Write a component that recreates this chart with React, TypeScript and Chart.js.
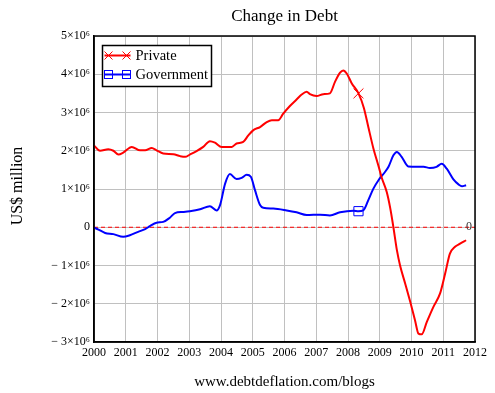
import React, { useEffect, useRef } from "react";
import Chart from "chart.js/auto";

const FONT = "'Liberation Serif', 'Times New Roman', serif";

const titleText = "Change in Debt";
const yAxisTitle = "US$ million";
const footerText = "www.debtdeflation.com/blogs";
const seriesNames = ["Private", "Government"];

const xTicks = [2000, 2001, 2002, 2003, 2004, 2005, 2006, 2007, 2008, 2009, 2010, 2011, 2012];
const yTicks = [-3, -2, -1, 0, 1, 2, 3, 4, 5];

// values in units of 10^6 US$ million
const privateX = [2000.0, 2000.19, 2000.45, 2000.61, 2000.77, 2000.92, 2001.19, 2001.45, 2001.61, 2001.82, 2001.97, 2002.18, 2002.5, 2002.71, 2002.87, 2003.02, 2003.23, 2003.44, 2003.65, 2003.81, 2004.02, 2004.34, 2004.49, 2004.7, 2004.86, 2005.02, 2005.23, 2005.44, 2005.6, 2005.8, 2005.96, 2006.17, 2006.38, 2006.54, 2006.7, 2006.8, 2007.01, 2007.22, 2007.43, 2007.59, 2007.75, 2007.85, 2007.96, 2008.12, 2008.33, 2008.5, 2008.64, 2008.8, 2008.96, 2009.06, 2009.22, 2009.33, 2009.43, 2009.54, 2009.64, 2009.8, 2009.96, 2010.11, 2010.22, 2010.32, 2010.48, 2010.69, 2010.9, 2011.06, 2011.21, 2011.37, 2011.53, 2011.72];
const privateY = [2.14, 2.0, 2.04, 2.0, 1.9, 1.95, 2.1, 2.01, 2.01, 2.07, 2.01, 1.93, 1.91, 1.86, 1.84, 1.9, 1.99, 2.1, 2.25, 2.21, 2.1, 2.1, 2.19, 2.23, 2.4, 2.54, 2.62, 2.75, 2.8, 2.8, 2.97, 3.17, 3.34, 3.47, 3.54, 3.48, 3.43, 3.48, 3.5, 3.8, 4.04, 4.1, 4.02, 3.76, 3.5, 3.12, 2.62, 2.06, 1.6, 1.3, 0.92, 0.5, 0.0, -0.6, -1.0, -1.47, -1.95, -2.43, -2.78, -2.8, -2.48, -2.08, -1.73, -1.21, -0.69, -0.51, -0.43, -0.34];

const govX = [2000.0, 2000.14, 2000.35, 2000.61, 2000.92, 2001.13, 2001.39, 2001.61, 2001.76, 2001.97, 2002.18, 2002.39, 2002.55, 2002.81, 2003.02, 2003.34, 2003.65, 2003.86, 2003.97, 2004.13, 2004.28, 2004.49, 2004.65, 2004.81, 2004.94, 2005.07, 2005.23, 2005.33, 2005.65, 2006.07, 2006.38, 2006.7, 2007.12, 2007.43, 2007.75, 2008.17, 2008.33, 2008.48, 2008.64, 2008.8, 2008.96, 2009.17, 2009.28, 2009.43, 2009.54, 2009.69, 2009.9, 2010.17, 2010.38, 2010.58, 2010.79, 2010.95, 2011.11, 2011.32, 2011.48, 2011.59, 2011.72];
const govY = [-0.01, -0.06, -0.15, -0.18, -0.25, -0.21, -0.12, -0.05, 0.03, 0.12, 0.14, 0.25, 0.37, 0.4, 0.42, 0.47, 0.55, 0.44, 0.58, 1.14, 1.39, 1.26, 1.29, 1.37, 1.32, 0.97, 0.58, 0.51, 0.49, 0.44, 0.39, 0.32, 0.33, 0.31, 0.39, 0.43, 0.42, 0.44, 0.71, 1.01, 1.23, 1.45, 1.59, 1.88, 1.97, 1.84, 1.59, 1.58, 1.58, 1.55, 1.58, 1.66, 1.53, 1.25, 1.12, 1.07, 1.1];

const markerYear = 2008.33;

function fmtY(v: number): string {
  if (v === 0) return "0";
  return (v < 0 ? "\u2212 " : "") + Math.abs(v) + "\u00d710\u2076";
}

function drawCross(ctx: CanvasRenderingContext2D, x: number, y: number, h: number) {
  ctx.beginPath();
  ctx.moveTo(x - h, y - h);
  ctx.lineTo(x + h, y + h);
  ctx.moveTo(x - h, y + h);
  ctx.lineTo(x + h, y - h);
  ctx.stroke();
}

const decorPlugin = {
  id: "decor",
  beforeDatasetsDraw(chart: any) {
    const { ctx, chartArea, scales } = chart;
    const y0 = scales.y.getPixelForValue(0);
    ctx.save();
    ctx.strokeStyle = "#ff0000";
    ctx.lineWidth = 1;
    ctx.setLineDash([4, 3]);
    ctx.beginPath();
    ctx.moveTo(chartArea.left, y0);
    ctx.lineTo(chartArea.right, y0);
    ctx.stroke();
    ctx.restore();
  },
  afterDraw(chart: any) {
    const { ctx, chartArea, scales } = chart;
    ctx.save();
    // frame
    ctx.strokeStyle = "#000";
    ctx.lineWidth = 1.5;
    ctx.strokeRect(chartArea.left, chartArea.top, chartArea.right - chartArea.left, chartArea.bottom - chartArea.top);

    // zero label
    const y0 = scales.y.getPixelForValue(0);
    ctx.fillStyle = "#333";
    ctx.font = `12px ${FONT}`;
    ctx.textAlign = "center";
    ctx.textBaseline = "middle";
    ctx.fillText("0", chartArea.right - 6, y0);

    // title
    const cx = (chartArea.left + chartArea.right) / 2;
    ctx.fillStyle = "#000";
    ctx.font = `17px ${FONT}`;
    ctx.fillText(titleText, cx, 17);
    // footer
    ctx.font = `15px ${FONT}`;
    ctx.fillText(footerText, cx, 382);
    // y title
    ctx.save();
    ctx.translate(18, (chartArea.top + chartArea.bottom) / 2 - 3);
    ctx.rotate(-Math.PI / 2);
    ctx.font = `16px ${FONT}`;
    ctx.fillText(yAxisTitle, 0, 0);
    ctx.restore();

    // legend
    const lx = chartArea.left + 8.5, ly = chartArea.top + 9.5, lw = 109, lh = 41;
    ctx.fillStyle = "#fff";
    ctx.fillRect(lx, ly, lw, lh);
    ctx.strokeStyle = "#000";
    ctx.lineWidth = 1.5;
    ctx.strokeRect(lx, ly, lw, lh);
    const rows = [
      { name: seriesNames[0], color: "#ff0000", y: ly + 10 },
      { name: seriesNames[1], color: "#0000ff", y: ly + 29 },
    ];
    rows.forEach((r, i) => {
      ctx.strokeStyle = r.color;
      ctx.lineWidth = 2;
      ctx.beginPath();
      ctx.moveTo(lx + 2, r.y);
      ctx.lineTo(lx + 28, r.y);
      ctx.stroke();
      ctx.lineWidth = 1;
      [lx + 6, lx + 24].forEach((mx) => {
        if (i === 0) drawCross(ctx, mx, r.y, 4);
        else ctx.strokeRect(mx - 4, r.y - 4, 8, 8);
      });
      ctx.fillStyle = "#000";
      ctx.font = `14.5px ${FONT}`;
      ctx.textAlign = "left";
      ctx.textBaseline = "middle";
      ctx.fillText(r.name, lx + 33, r.y + 1);
    });
    ctx.restore();
  },
};

export default function App() {
  const ref = useRef<HTMLCanvasElement>(null);
  useEffect(() => {
    if (!ref.current) return;
    const privIdx = privateX.indexOf(markerYear);
    const govIdx = govX.indexOf(markerYear);
    const chart = new Chart(ref.current, {
      type: "line",
      data: {
        datasets: [
          {
            label: seriesNames[0],
            data: privateX.map((x, i) => ({ x, y: privateY[i] })),
            borderColor: "#ff0000",
            borderWidth: 2,
            cubicInterpolationMode: "monotone",
            pointStyle: "crossRot",
            pointRadius: (c: any) => (c.dataIndex === privIdx ? 7 : 0),
            pointBorderColor: "#ff0000",
            pointBorderWidth: 1,
            pointBackgroundColor: "rgba(0,0,0,0)",
            pointHoverRadius: 0,
          },
          {
            label: seriesNames[1],
            data: govX.map((x, i) => ({ x, y: govY[i] })),
            borderColor: "#0000ff",
            borderWidth: 2,
            cubicInterpolationMode: "monotone",
            pointStyle: "rect",
            pointRadius: (c: any) => (c.dataIndex === govIdx ? 6.5 : 0),
            pointBorderColor: "#0000ff",
            pointBorderWidth: 1,
            pointBackgroundColor: "rgba(0,0,0,0)",
            pointHoverRadius: 0,
          },
        ],
      },
      options: {
        responsive: false,
        animation: false,
        events: [],
        layout: { padding: { top: 36, right: 20, left: 0, bottom: 0 } },
        plugins: { legend: { display: false }, tooltip: { enabled: false }, title: { display: false } },
        scales: {
          x: {
            type: "linear",
            min: xTicks[0],
            max: xTicks[xTicks.length - 1],
            afterBuildTicks: (s: any) => {
              s.ticks = xTicks.map((v) => ({ value: v }));
            },
            afterFit: (s: any) => {
              s.height = 51;
            },
            ticks: {
              color: "#000",
              font: { family: FONT, size: 12 },
              padding: 4,
              maxRotation: 0,
              autoSkip: false,
              callback: (v: any) => String(v),
            },
            grid: { color: "#c0c0c0", lineWidth: 1, drawTicks: false },
            border: { color: "#000", width: 1.5 },
          },
          y: {
            type: "linear",
            min: yTicks[0],
            max: yTicks[yTicks.length - 1],
            afterBuildTicks: (s: any) => {
              s.ticks = yTicks.map((v) => ({ value: v }));
            },
            afterFit: (s: any) => {
              s.width = 94;
            },
            ticks: {
              color: "#000",
              font: { family: FONT, size: 12 },
              padding: 4,
              autoSkip: false,
              callback: (v: any) => fmtY(Number(v)),
            },
            grid: { color: "#c0c0c0", lineWidth: 1, drawTicks: false },
            border: { color: "#000", width: 1.5 },
          },
        },
      },
      plugins: [decorPlugin],
    } as any);
    return () => chart.destroy();
  }, []);
  return (
    <div style={{ position: "fixed", left: 0, top: 0, width: 495, height: 393, background: "#fff" }}>
      <canvas ref={ref} width={495} height={393} />
    </div>
  );
}
